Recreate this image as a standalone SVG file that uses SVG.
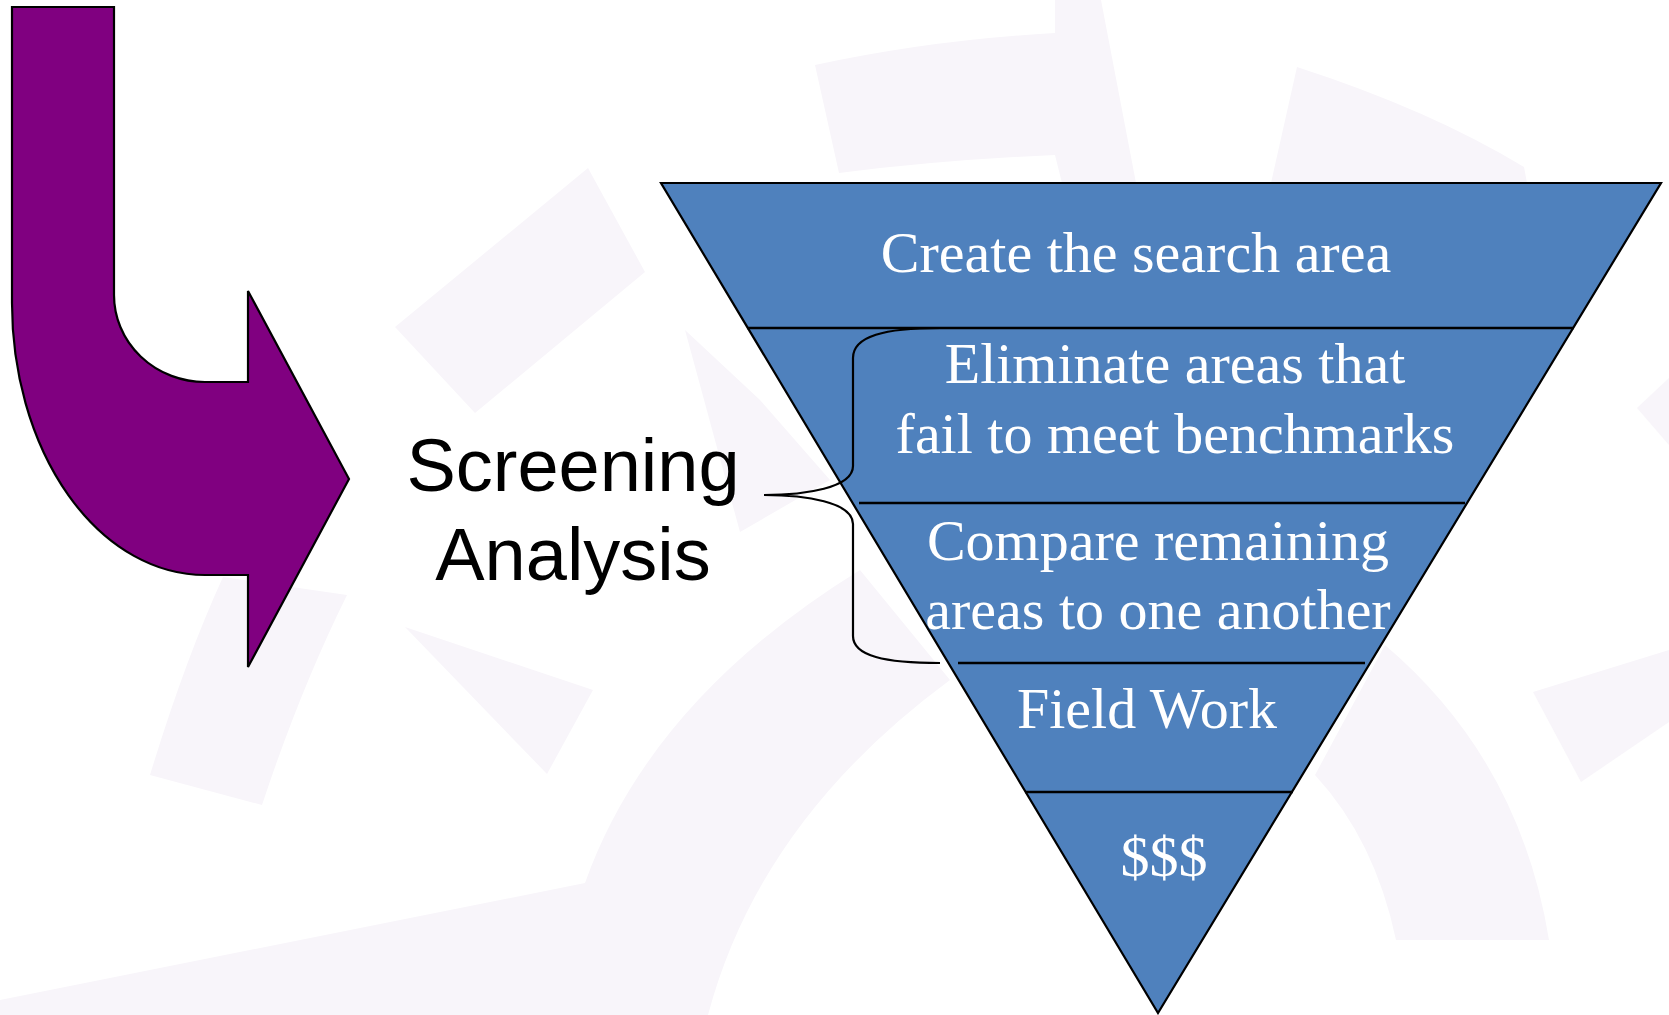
<svg xmlns="http://www.w3.org/2000/svg" width="1669" height="1015" viewBox="0 0 1669 1015">
<style>
.wm{fill:#F8F5FA;stroke:none}
.band{fill:#4F81BD;stroke:#000;stroke-width:2.2;stroke-linejoin:miter}
.div{stroke:#000;stroke-width:2.6;fill:none}
.ft{font-family:"Liberation Serif","Times New Roman",serif;font-size:58px;fill:#fff;text-anchor:middle}
.lt{font-family:"Liberation Sans",Arial,sans-serif;font-size:74px;fill:#000;text-anchor:middle}
.brace{fill:none;stroke:#000;stroke-width:2.2}
</style>
<rect width="1669" height="1015" fill="#fff"/>
<g id="watermark">
<path class="wm" d="M815,65 Q930,40 1055,33 L1055,0 L1101,0 L1136,183 L1062,183 L1055,155 Q940,160 839,173 Z"/>
<path class="wm" d="M1297,67 Q1430,110 1524,167 L1527,183 L1271,183 Z"/>
<polygon class="wm" points="395,327 588,168 645,272 475,413"/>
<polygon class="wm" points="685,330 740,532 830,480 760,400"/>
<path class="wm" d="M150,775 Q185,660 223,577 L347,595 Q300,690 262,805 Z"/>
<polygon class="wm" points="405,627 593,690 547,774"/>
<path class="wm" d="M0,1015 L0,1000 L585,883 Q650,700 860,570 L950,680 Q760,820 708,1015 Z"/>
<path class="wm" d="M1396,940 L1549,940 Q1520,760 1385,645 L1315,775 Q1375,840 1396,940 Z"/>
<polygon class="wm" points="1533,692 1669,650 1669,722 1581,782"/>
<polygon class="wm" points="1637,408 1669,378 1669,445"/>
</g>
<g id="arrow">
<path d="M12,7 L114,7 L114,295 A91,87 0 0 0 205,382 L248,382 L248,291 L349,479 L248,667 L248,575 L205,575 A193,272 0 0 1 12,303 Z" fill="#800080" stroke="#000" stroke-width="2.2" stroke-linejoin="miter"/>
</g>
<g id="funnel">
<polygon class="band" points="661,183 1661,183 1158,1013"/>
<line class="div" x1="747" y1="328" x2="1574" y2="328"/>
<line class="div" x1="859" y1="503" x2="1465" y2="503"/>
<line class="div" x1="958" y1="663" x2="1365" y2="663"/>
<line class="div" x1="1025" y1="792" x2="1293" y2="792"/>
</g>
<g id="stage1"><text class="ft" x="1136" y="272">Create the search area</text></g>
<g id="stage2"><text class="ft" x="1175" y="383">Eliminate areas that</text><text class="ft" x="1175" y="453">fail to meet benchmarks</text></g>
<g id="stage3"><text class="ft" x="1158" y="560">Compare remaining</text><text class="ft" x="1158" y="629">areas to one another</text></g>
<g id="stage4"><text class="ft" x="1147" y="728">Field Work</text></g>
<g id="stage5"><text class="ft" x="1164" y="876">$$$</text></g>
<g id="label"><text class="lt" x="573" y="491">Screening</text><text class="lt" x="573" y="580">Analysis</text></g>
<g id="connectors">
<path class="brace" d="M940,328 C885,328 853,336 853,358 L853,466 C853,488 805,495 764,495 C805,495 853,502 853,524 L853,636 C853,656 885,663 940,663"/>
</g>
</svg>
